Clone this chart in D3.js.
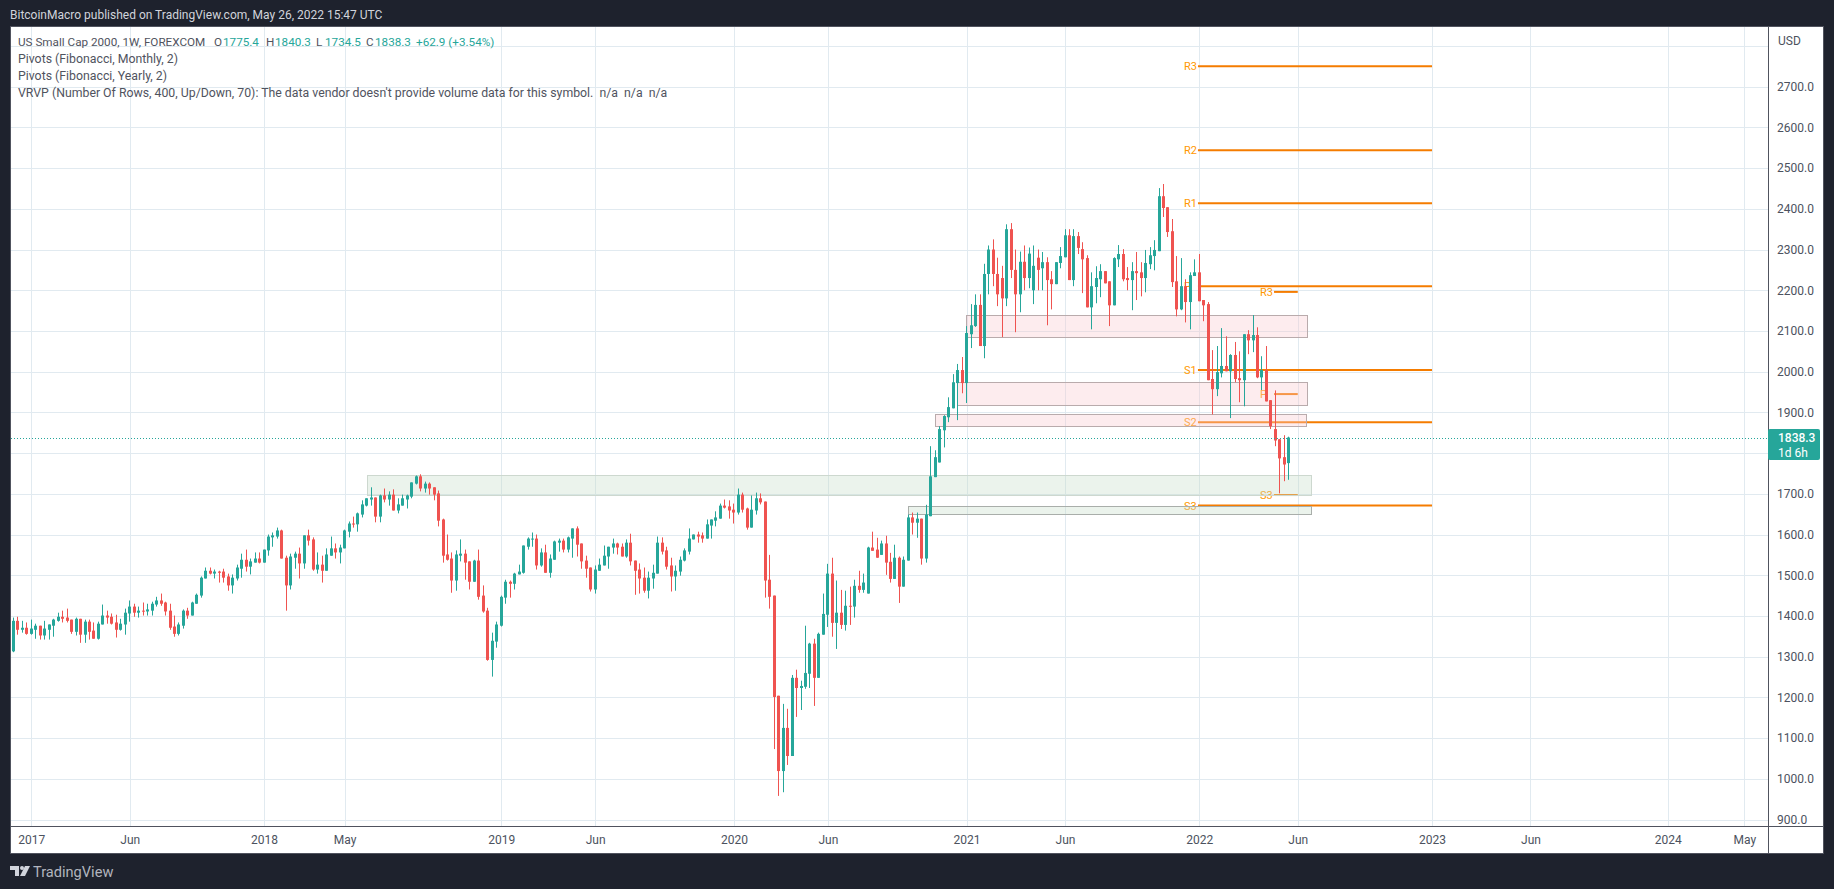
<!DOCTYPE html>
<meta charset="utf-8">
<html>
<head>
<title>US Small Cap 2000</title>
<style>
    html, body { margin: 0; padding: 0; background: #1e222d; overflow: hidden; }
    svg { display: block; }
    text { font-family: Roboto, sans-serif; }
</style>
</head>
<body>
<div id="viz"></div>
<script src="https://cdnjs.cloudflare.com/ajax/libs/d3/7.8.5/d3.min.js"></script>
<script>
// weekly candles, index 0 is the first week of 2017
var firstWeek = -5;

var opens = [
    1350,1313,1388,1366,1371,1356,1366,1376,1352,1366,
    1376,1388,1398,1396,1391,1361,1393,1354,1386,1364,
    1344,1379,1401,1398,1384,1366,1379,1406,1423,1408,
    1413,1411,1413,1428,1438,1433,1413,1374,1356,1376,
    1413,1401,1430,1450,1492,1511,1504,1509,1509,1497,
    1475,1492,1516,1538,1521,1531,1541,1531,1561,1593,
    1595,1610,1543,1475,1543,1553,1529,1598,1588,1514,
    1526,1511,1548,1566,1556,1566,1607,1627,1625,1649,
    1671,1686,1691,1644,1696,1686,1698,1659,1671,1686,
    1693,1725,1743,1713,1725,1716,1701,1637,1551,1541,
    1487,1548,1553,1534,1484,1536,1450,1413,1292,1337,
    1376,1445,1484,1479,1502,1506,1570,1588,1590,1524,
    1556,1506,1538,1580,1585,1563,1590,1615,1578,1536,
    1519,1465,1511,1524,1546,1568,1578,1570,1546,1580,
    1536,1514,1494,1462,1492,1504,1580,1561,1524,1497,
    1509,1536,1558,1588,1600,1598,1590,1622,1634,1639,
    1671,1669,1661,1654,1698,1664,1617,1659,1689,1681,
    1489,1450,1204,1019,1125,1056,1248,1223,1226,1258,
    1332,1248,1354,1403,1504,1383,1408,1378,1425,1423,
    1474,1464,1455,1568,1563,1550,1578,1533,1491,1543,
    1472,1536,1642,1629,1639,1541,1645,1741,1777,1856,
    1888,1910,1972,2004,1972,2092,2112,2164,2063,2240,
    2300,2240,2230,2180,2350,2250,2190,2270,2230,2200,
    2280,2254,2269,2227,2215,2267,2281,2335,2225,2333,
    2301,2279,2158,2208,2227,2247,2222,2163,2276,2289,
    2230,2225,2247,2244,2230,2264,2284,2296,2431,2404,
    2345,2222,2153,2210,2171,2235,2244,2176,2166,1982,
    1957,1996,2014,2001,2041,1984,1979,2092,2077,2090,
    1986,2004,1930,1859,1834,1790,1775.4
];
var highs = [
    1355,1396,1398,1388,1384,1391,1381,1376,1388,1379,
    1393,1408,1413,1418,1391,1396,1393,1391,1391,1384,
    1386,1428,1413,1406,1403,1393,1418,1438,1430,1423,
    1433,1430,1435,1447,1455,1435,1430,1401,1384,1416,
    1420,1435,1455,1497,1519,1519,1514,1511,1516,1504,
    1502,1526,1553,1563,1541,1556,1556,1563,1600,1605,
    1617,1612,1548,1553,1558,1568,1598,1612,1593,1556,
    1548,1566,1595,1578,1575,1612,1632,1644,1654,1684,
    1689,1716,1691,1698,1713,1706,1711,1689,1698,1698,
    1728,1745,1748,1730,1728,1716,1708,1639,1600,1556,
    1561,1588,1563,1534,1538,1563,1475,1420,1359,1386,
    1450,1489,1487,1506,1526,1573,1593,1605,1600,1566,
    1575,1551,1585,1590,1590,1595,1615,1620,1578,1548,
    1519,1524,1541,1573,1570,1590,1580,1578,1588,1602,
    1536,1529,1519,1509,1526,1595,1593,1570,1543,1524,
    1546,1566,1615,1600,1607,1605,1637,1637,1657,1676,
    1686,1684,1676,1713,1703,1666,1696,1703,1701,1681,
    1550,1450,1204,1184,1172,1255,1268,1241,1376,1334,
    1344,1359,1455,1528,1543,1487,1464,1462,1472,1489,
    1511,1504,1570,1607,1592,1585,1597,1555,1575,1546,
    1546,1649,1654,1654,1639,1673,1817,1807,1866,1893,
    1937,1994,2019,2036,2112,2166,2190,2190,2265,2310,
    2325,2280,2260,2362,2365,2300,2295,2310,2305,2310,
    2300,2294,2281,2247,2269,2306,2350,2350,2350,2343,
    2318,2286,2244,2259,2264,2247,2222,2281,2311,2301,
    2257,2269,2294,2269,2299,2306,2323,2451,2461,2404,
    2375,2284,2279,2227,2244,2276,2289,2176,2171,2053,
    2063,2107,2087,2043,2073,2050,2092,2102,2139,2109,
    2038,2063,1930,1954,1834,1844,1840.3
];
var lows = [
    1310,1311,1354,1359,1354,1354,1344,1342,1342,1342,
    1349,1386,1384,1384,1356,1352,1334,1334,1342,1344,
    1342,1379,1381,1379,1347,1364,1354,1386,1398,1396,
    1401,1401,1401,1423,1425,1401,1366,1349,1352,1369,
    1393,1401,1430,1445,1492,1502,1492,1482,1482,1462,
    1455,1487,1494,1509,1502,1531,1529,1531,1548,1570,
    1590,1541,1413,1465,1516,1492,1516,1573,1511,1504,
    1482,1511,1548,1541,1529,1566,1593,1617,1607,1642,
    1669,1671,1630,1630,1679,1671,1659,1652,1671,1664,
    1689,1723,1706,1703,1698,1684,1620,1531,1536,1457,
    1462,1534,1489,1465,1484,1440,1408,1290,1251,1322,
    1374,1430,1445,1465,1502,1504,1563,1570,1514,1521,
    1506,1494,1538,1558,1556,1556,1543,1546,1516,1494,
    1460,1455,1511,1524,1516,1553,1551,1546,1543,1524,
    1452,1455,1457,1443,1467,1504,1551,1514,1460,1462,
    1499,1534,1551,1588,1580,1580,1590,1590,1620,1639,
    1664,1639,1627,1649,1654,1612,1617,1649,1674,1445,
    1418,1073,958,967,1034,1056,1152,1169,1221,1223,
    1179,1248,1354,1373,1349,1319,1368,1364,1378,1396,
    1457,1457,1455,1560,1543,1550,1501,1482,1491,1432,
    1472,1536,1600,1592,1526,1531,1645,1741,1777,1814,
    1876,1910,1881,1947,1923,2058,2110,2063,2033,2190,
    2210,2161,2085,2161,2230,2097,2146,2200,2205,2166,
    2200,2200,2114,2153,2215,2254,2281,2225,2210,2289,
    2193,2158,2104,2168,2183,2217,2112,2163,2257,2222,
    2200,2151,2176,2185,2195,2252,2249,2296,2380,2331,
    2208,2136,2151,2121,2104,2235,2173,2124,1979,1895,
    1940,1986,2001,1886,1974,1925,1915,2043,2048,1984,
    1955,1927,1859,1817,1701,1731,1734.5
];
var closes = [
    1313,1388,1366,1371,1356,1369,1376,1352,1369,1379,
    1391,1398,1393,1388,1361,1393,1354,1386,1361,1344,
    1381,1401,1396,1381,1366,1381,1408,1423,1408,1413,
    1411,1416,1430,1438,1430,1411,1371,1356,1379,1413,
    1401,1433,1452,1494,1511,1504,1509,1506,1494,1475,
    1494,1519,1538,1521,1534,1541,1531,1563,1595,1598,
    1610,1541,1475,1546,1553,1529,1598,1585,1514,1526,
    1511,1551,1566,1556,1568,1610,1627,1625,1652,1674,
    1689,1691,1644,1696,1686,1698,1659,1674,1689,1696,
    1728,1743,1713,1725,1713,1698,1634,1548,1538,1487,
    1551,1553,1531,1484,1536,1447,1411,1292,1339,1379,
    1447,1484,1479,1504,1509,1573,1590,1590,1524,1556,
    1506,1541,1583,1585,1563,1593,1615,1575,1534,1516,
    1465,1514,1526,1548,1570,1578,1568,1546,1580,1534,
    1511,1492,1462,1494,1506,1580,1558,1521,1497,1511,
    1538,1561,1590,1600,1595,1590,1625,1637,1642,1671,
    1666,1659,1654,1698,1661,1617,1661,1689,1679,1487,
    1447,1201,1019,1125,1056,1248,1223,1228,1260,1332,
    1248,1356,1405,1504,1383,1408,1378,1425,1423,1474,
    1464,1482,1568,1560,1543,1578,1531,1491,1543,1472,
    1538,1642,1629,1639,1541,1649,1743,1790,1859,1891,
    1913,1974,2004,1972,2095,2114,2164,2063,2240,2300,
    2240,2190,2180,2350,2250,2190,2270,2230,2290,2260,
    2250,2269,2225,2215,2269,2284,2335,2225,2333,2304,
    2276,2158,2210,2230,2247,2217,2163,2279,2289,2227,
    2225,2247,2242,2230,2267,2286,2299,2431,2402,2343,
    2220,2153,2210,2171,2237,2244,2173,2163,1979,1957,
    1999,2014,2001,2041,1982,1979,2092,2077,2090,1986,
    2004,1927,1866,1831,1787,1772,1838.3
];

// 1800 has a grid line but its label is covered by the last price tag
var priceTicks = [900,1000,1100,1200,1300,1400,1500,1600,1700,1900,2000,2100,2200,2300,2400,2500,2600,2700];
var gridOnlyPrices = [1800,2800];
var timeTickWeeks = [0,22,52,70,105,126,157,178,209,231,261,283,313,335,365.7,382.8];
var timeTickLabels = ["2017","Jun","2018","May","2019","Jun","2020","Jun","2021","Jun","2022","Jun","2023","Jun","2024","May"];

// shaded zones, in weeks and price
var zoneStart = [75.1,196,208.9,206.9,202];
var zoneEnd = [286.1,286.1,285,285,285];
var zoneTop = [1745.4,1671,2138.6,1973.8,1895.3];
var zoneBottom = [1696,1652,2084.6,1917,1865.8];
var zoneKind = ["green","greenDark","pink","pink","pink"];

// fibonacci pivots
var yearlyLabels = ["R3","R2","R1","P","S1","S2","S3"];
var yearlyLevels = [2750,2544,2414,2210,2004,1876,1671];
var yearlyFrom = 260.7, yearlyTo = 313;
var monthlyLabels = ["R3","P","S3"];
var monthlyLevels = [2196,1945,1697];
var monthlyFrom = 277.7, monthlyTo = 283;

var lastPrice = 1838.3;
var lastClock = "1d 6h";

var legendRows = [
    "Pivots (Fibonacci, Monthly, 2)",
    "Pivots (Fibonacci, Yearly, 2)",
    "VRVP (Number Of Rows, 400, Up/Down, 70): The data vendor doesn't provide volume data for this symbol.\u00a0\u00a0n/a\u00a0\u00a0n/a\u00a0\u00a0n/a"
];
var ohlcNames = ["O","H","L","C"];
var ohlcValues = ["1775.4","1840.3","1734.5","1838.3"];
var ohlcNameX = [214,266,316,366];

var upColor = "#26a69a", downColor = "#ef5350", gridColor = "#e1eaf0", pivotColor = "#f57c00";
var axisTextColor = "#4c525e", frameColor = "#50535e";

var width = 1834, height = 889;
var plot = {left: 11, top: 27, right: 1768, bottom: 826};
var outer = {right: 1823, bottom: 853};

var x = d3.scaleLinear().domain([0, 261]).range([31.3, 1199.3]);
var y = d3.scaleLinear().domain([900, 2700]).range([819.5, 86.7]);

var svg = d3.select("#viz").append("svg").attr("width", width).attr("height", height);

svg.append("text").attr("x", 10).attr("y", 19)
    .attr("fill", "#d1d4dc").attr("font-size", 12)
    .text("BitcoinMacro published on TradingView.com, May 26, 2022 15:47 UTC");

svg.append("rect").attr("x", plot.left).attr("y", plot.top)
    .attr("width", outer.right - plot.left).attr("height", outer.bottom - plot.top)
    .attr("fill", "#fff");

svg.append("clipPath").attr("id", "plotClip").append("rect")
    .attr("x", plot.left).attr("y", plot.top)
    .attr("width", plot.right - plot.left).attr("height", plot.bottom - plot.top);

var pane = svg.append("g").attr("clip-path", "url(#plotClip)");

// grid
pane.selectAll("line.h").data(priceTicks.concat(gridOnlyPrices)).enter().append("line")
    .attr("class", "h")
    .attr("x1", plot.left).attr("x2", plot.right)
    .attr("y1", function (d) { return Math.round(y(d)) + 0.5; })
    .attr("y2", function (d) { return Math.round(y(d)) + 0.5; })
    .attr("stroke", gridColor);
pane.selectAll("line.v").data(timeTickWeeks).enter().append("line")
    .attr("class", "v")
    .attr("x1", function (d) { return Math.round(x(d)) + 0.5; })
    .attr("x2", function (d) { return Math.round(x(d)) + 0.5; })
    .attr("y1", plot.top).attr("y2", plot.bottom)
    .attr("stroke", gridColor);

// pivots sit under the zones, which wash them out a bit
function drawPivots(labels, levels, from, to) {
    pane.selectAll(null).data(levels).enter().append("line")
        .attr("x1", x(from)).attr("x2", x(to))
        .attr("y1", function (d) { return y(d); })
        .attr("y2", function (d) { return y(d); })
        .attr("stroke", pivotColor).attr("stroke-width", 2);
    pane.selectAll(null).data(levels).enter().append("text")
        .attr("x", x(from) - 14)
        .attr("y", function (d) { return y(d) + 4; })
        .attr("fill", "#ff9800").attr("font-size", 11)
        .text(function (d, i) { return labels[i]; });
}
drawPivots(yearlyLabels, yearlyLevels, yearlyFrom, yearlyTo);
drawPivots(monthlyLabels, monthlyLevels, monthlyFrom, monthlyTo);

// zones
var zoneFill = {green: "rgba(198,221,201,0.35)", greenDark: "rgba(198,221,201,0.35)", pink: "rgba(249,201,206,0.35)"};
var zoneStroke = {green: "#cdd8cf", greenDark: "#a9aeaa", pink: "#b9abac"};
pane.selectAll("rect.zone").data(zoneStart).enter().append("rect")
    .attr("class", "zone")
    .attr("x", function (d) { return Math.round(x(d)) + 0.5; })
    .attr("width", function (d, i) { return Math.round(x(zoneEnd[i]) - x(d)); })
    .attr("y", function (d, i) { return Math.round(y(zoneTop[i])) + 0.5; })
    .attr("height", function (d, i) { return Math.round(y(zoneBottom[i]) - y(zoneTop[i])); })
    .attr("fill", function (d, i) { return zoneFill[zoneKind[i]]; })
    .attr("stroke", function (d, i) { return zoneStroke[zoneKind[i]]; });

// candles
var candles = pane.selectAll("g.candle").data(opens).enter().append("g").attr("class", "candle")
    .attr("fill", function (d, i) { return closes[i] >= d ? upColor : downColor; });
function candleX(i) { return Math.round(x(i + firstWeek) - 0.5); }
candles.append("rect")
    .attr("x", function (d, i) { return candleX(i); })
    .attr("width", 1)
    .attr("y", function (d, i) { return y(highs[i]); })
    .attr("height", function (d, i) { return y(lows[i]) - y(highs[i]); });
candles.append("rect")
    .attr("x", function (d, i) { return candleX(i) - 1; })
    .attr("width", 3)
    .attr("y", function (d, i) { return y(Math.max(d, closes[i])); })
    .attr("height", function (d, i) { return Math.max(1, Math.abs(y(d) - y(closes[i]))); });

// last price line
pane.append("line")
    .attr("x1", plot.left).attr("x2", plot.right)
    .attr("y1", Math.round(y(lastPrice)) + 0.5).attr("y2", Math.round(y(lastPrice)) + 0.5)
    .attr("stroke", upColor).attr("stroke-dasharray", "1,2");

// axes
var yAxis = d3.axisRight(y).tickValues(priceTicks)
    .tickFormat(function (d) { return d3.format(".1f")(d); })
    .tickSize(0).tickPadding(9);
var yAxisG = svg.append("g").attr("transform", "translate(" + plot.right + ",0)").call(yAxis);
var xAxis = d3.axisBottom(x).tickValues(timeTickWeeks)
    .tickFormat(function (d, i) { return timeTickLabels[i]; })
    .tickSize(0).tickPadding(9);
var xAxisG = svg.append("g").attr("transform", "translate(0," + plot.bottom + ")").call(xAxis);
[yAxisG, xAxisG].forEach(function (g) {
    g.select(".domain").remove();
    g.selectAll("text").attr("fill", axisTextColor).attr("font-size", 12).attr("font-family", "Roboto, sans-serif");
});

svg.append("text").attr("x", 1778).attr("y", 45)
    .attr("fill", axisTextColor).attr("font-size", 12).text("USD");

// frame
svg.append("line").attr("x1", plot.right + 0.5).attr("x2", plot.right + 0.5)
    .attr("y1", plot.top).attr("y2", outer.bottom).attr("stroke", frameColor);
svg.append("line").attr("x1", plot.left).attr("x2", outer.right)
    .attr("y1", plot.bottom + 0.5).attr("y2", plot.bottom + 0.5).attr("stroke", frameColor);
svg.append("rect").attr("x", plot.left - 0.5).attr("y", plot.top - 0.5)
    .attr("width", outer.right - plot.left + 1).attr("height", outer.bottom - plot.top + 1)
    .attr("fill", "none").attr("stroke", frameColor);

// last price tag
svg.append("rect").attr("x", plot.right).attr("y", 429).attr("width", 52).attr("height", 31)
    .attr("rx", 2).attr("fill", upColor);
svg.append("text").attr("x", 1778).attr("y", y(lastPrice) + 4.5)
    .attr("fill", "#fff").attr("font-size", 12).attr("font-weight", 500).text(d3.format(".1f")(lastPrice));
svg.append("text").attr("x", 1778).attr("y", y(lastPrice) + 19)
    .attr("fill", "#fff").attr("font-size", 12).text(lastClock);

// legend
var legendColor = "#50535e";
var first = svg.append("text").attr("y", 46).attr("font-size", 11.7).attr("fill", legendColor);
first.append("tspan").attr("x", 18).text("US Small Cap 2000, 1W, FOREXCOM");
ohlcNames.forEach(function (n, i) {
    first.append("tspan").attr("x", ohlcNameX[i]).text(n);
    first.append("tspan").attr("x", ohlcNameX[i] + 9).attr("fill", upColor).text(ohlcValues[i]);
});
first.append("tspan").attr("x", 416).attr("fill", upColor).text("+62.9 (+3.54%)");
svg.selectAll("text.legend").data(legendRows).enter().append("text")
    .attr("class", "legend")
    .attr("x", 18)
    .attr("y", function (d, i) { return 63 + i * 17; })
    .attr("font-size", 12.3).attr("fill", legendColor)
    .text(function (d) { return d; });

// logo
var logo = svg.append("g").attr("fill", "#d1d4dc").attr("transform", "translate(10,866)");
logo.append("path").attr("d", "M0 0H9V10H5V4H0Z");
logo.append("circle").attr("cx", 12).attr("cy", 2).attr("r", 2);
logo.append("path").attr("d", "M15 0H20L15 10H10Z");
svg.append("text").attr("x", 33).attr("y", 877).attr("fill", "#b2b5be").attr("font-size", 14.6)
    .text("TradingView");
</script>
</body>
</html>
